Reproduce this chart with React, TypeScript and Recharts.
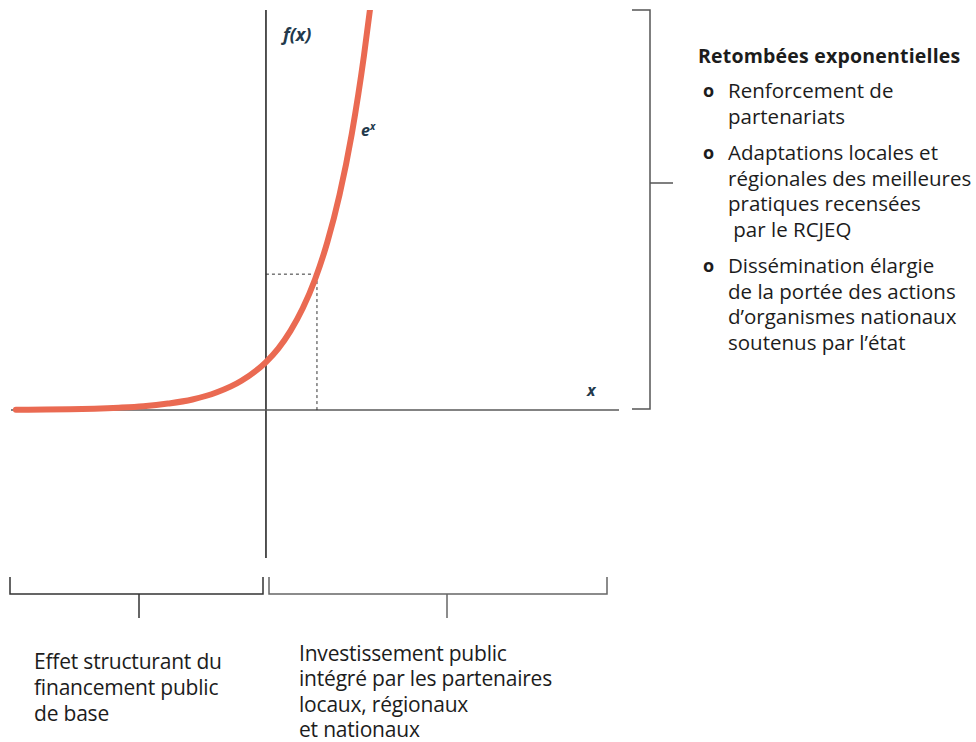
import React from 'react';
import { LineChart, Line, XAxis, YAxis, ReferenceLine } from 'recharts';

// points (x, f(x))
const xs = [-5.1, -4.5, -4, -3.5, -3, -2.5, -2, -1.5, -1, -0.5, 0, 0.25, 0.5, 0.75, 1, 1.25, 1.5, 1.75, 2, 2.12];
const fx = [0.006, 0.011, 0.018, 0.03, 0.05, 0.08, 0.135, 0.22, 0.37, 0.61, 1.0, 1.28, 1.65, 2.12, 2.72, 3.49, 4.48, 5.75, 7.39, 8.33];

const markX = 1.04;
const markY = 2.83;

const sideTitle = 'Retombées exponentielles';
const sideItems = [
    ['Renforcement de', 'partenariats'],
    ['Adaptations locales et', 'régionales des meilleures', 'pratiques recensées', ' par le RCJEQ'],
    ['Dissémination élargie', 'de la portée des actions', 'd’organismes nationaux', 'soutenus par l’état'],
];
const leftNote = ['Effet structurant du', 'financement public', 'de base'];
const rightNote = ['Investissement public', 'intégré par les partenaires', 'locaux, régionaux', 'et nationaux'];

const data = xs.map((x, i) => ({ x, y: fx[i] }));

const FONT = '"Open Sans", "Noto Sans", sans-serif';
const INK = '#1c1c1c';
const NAVY = '#22394c';
const CURVE = '#ea6a52';

const mathLabel: React.CSSProperties = {
    position: 'absolute',
    fontFamily: FONT,
    fontWeight: 700,
    fontStyle: 'italic',
    color: NAVY,
    lineHeight: 1,
};

export default function App() {
    return (
        <div style={{ position: 'absolute', left: 0, top: 0, width: 976, height: 742, overflow: 'hidden', background: '#fff', fontFamily: FONT, color: INK }}>
            <LineChart
                width={976}
                height={742}
                data={data}
                margin={{ top: 10, right: 357, left: 11, bottom: 184 }}
            >
                <XAxis dataKey="x" type="number" domain={[-5.2, 7.2]} hide />
                <YAxis type="number" domain={[-3.08, 8.33]} hide allowDataOverflow />
                <ReferenceLine x={0} stroke="#1a1a1a" strokeWidth={1.5} />
                <ReferenceLine y={0} stroke="#5a5a5a" strokeWidth={1.5} />
                <ReferenceLine
                    segment={[{ x: 0, y: markY }, { x: markX, y: markY }]}
                    stroke="#333"
                    strokeDasharray="3 3"
                />
                <ReferenceLine
                    segment={[{ x: markX, y: 0 }, { x: markX, y: markY }]}
                    stroke="#333"
                    strokeDasharray="3 3"
                />
                <Line
                    type="monotone"
                    dataKey="y"
                    stroke={CURVE}
                    strokeWidth={6}
                    strokeLinecap="round"
                    dot={false}
                    isAnimationActive={false}
                />
            </LineChart>

            <div style={{ ...mathLabel, left: 283, top: 25, fontSize: 18 }}>f(x)</div>
            <div style={{ ...mathLabel, left: 361, top: 121, fontSize: 16 }}>
                e<span style={{ fontSize: 10, verticalAlign: 6 }}>x</span>
            </div>
            <div style={{ ...mathLabel, left: 587, top: 382, fontSize: 16 }}>x</div>

            <svg width={976} height={742} style={{ position: 'absolute', left: 0, top: 0, pointerEvents: 'none' }}>
                <g fill="none" stroke="#555" strokeWidth={1.5}>
                    <polyline points="632,10 650,10 650,409 632,409" />
                    <line x1={650} y1={183} x2={673} y2={183} />
                </g>
                <g fill="none" stroke="#333" strokeWidth={1.5}>
                    <polyline points="10,577 10,594 263,594 263,577" />
                    <line x1={139} y1={594} x2={139} y2={618} />
                </g>
                <g fill="none" stroke="#666" strokeWidth={1.5}>
                    <polyline points="269,577 269,594 607,594 607,577" />
                    <line x1={447} y1={594} x2={447} y2={618} />
                </g>
            </svg>

            <div style={{ position: 'absolute', left: 698, top: 43, fontSize: 19.5, fontWeight: 700, lineHeight: '26px', letterSpacing: 0.2, whiteSpace: 'nowrap' }}>
                {sideTitle}
            </div>
            <div style={{ position: 'absolute', left: 703, top: 78, fontSize: 20.5, lineHeight: '25.5px', whiteSpace: 'nowrap' }}>
                {sideItems.map((lines, i) => (
                    <div key={i} style={{ display: 'flex', marginBottom: 11 }}>
                        <div style={{ width: 25, fontWeight: 700, fontSize: 18 }}>o</div>
                        <div style={{ whiteSpace: 'pre' }}>
                            {lines.map((l, j) => <div key={j}>{l}</div>)}
                        </div>
                    </div>
                ))}
            </div>

            <div style={{ position: 'absolute', left: 34, top: 648, fontSize: 21, lineHeight: '26px', letterSpacing: -0.2, whiteSpace: 'nowrap' }}>
                {leftNote.map((l, i) => <div key={i}>{l}</div>)}
            </div>
            <div style={{ position: 'absolute', left: 299, top: 641, fontSize: 21, lineHeight: '25.3px', letterSpacing: -0.2, whiteSpace: 'nowrap' }}>
                {rightNote.map((l, i) => <div key={i}>{l}</div>)}
            </div>
        </div>
    );
}
